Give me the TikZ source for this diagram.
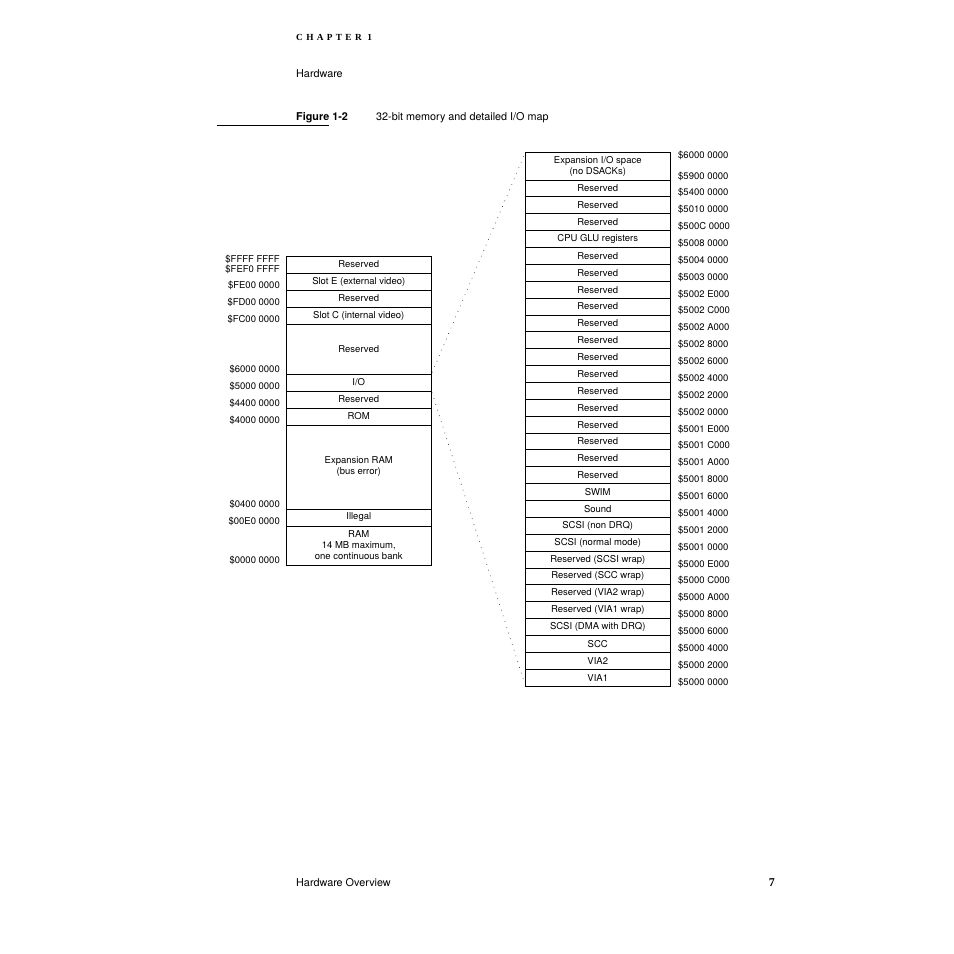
\documentclass[tikz,border=0pt]{standalone}
\usepackage{fontspec}
\setmainfont{TeX Gyre Heros}
\newfontfamily\chapfont[LetterSpace=36]{Liberation Serif}
\newfontfamily\folio{Liberation Serif}
\usepackage{tikz}
\usetikzlibrary{positioning}
\tikzstyle{cell} = [rectangle, draw, line width=0.9pt, inner sep=0pt, outer sep=0pt,
    text centered, align=center, font=\fontsize{9.5}{11}\selectfont]
\tikzstyle{lcell} = [cell, minimum width=145.5pt, minimum height=17pt]
\tikzstyle{rcell} = [cell, minimum width=144.5pt, minimum height=16.87pt]
\tikzstyle{laddr} = [anchor=base east, inner sep=0pt, font=\fontsize{9.5}{11}\selectfont]
\tikzstyle{raddr} = [anchor=base west, inner sep=0pt, font=\fontsize{9.5}{11}\selectfont]
\tikzstyle{head} = [anchor=base west, inner sep=0pt, font=\fontsize{10.8}{13}\selectfont]
\tikzstyle{link} = [draw, black!85, line width=0.9pt, line cap=round,
    dash pattern=on 0pt off 6pt, shorten >=2pt, shorten <=2pt]

\begin{document}
\begin{tikzpicture}[x=1pt,y=-1pt]
    \useasboundingbox (0,0) rectangle (954,954);
    % Page head
    \node[head,font=\chapfont\bfseries\fontsize{9.3}{11}\selectfont] (chap) at (296,40.5) {CHAPTER 1};
    \node[head] (section) at (296,77) {Hardware};
    \node[head] (fignum) at (296,120) {\bfseries Figure 1-2};
    \node[head] (figtitle) at (376,120) {32-bit memory and detailed I/O map};
    \draw[line width=0.8pt] (217,125) -- (329,125);

    % Place nodes: 32-bit memory map
    \node[lcell,anchor=north west] (lres1) at (286,256) {Reserved};
    \node[lcell,below=0pt of lres1] (slotE) {Slot E (external video)};
    \node[lcell,below=0pt of slotE] (lres2) {Reserved};
    \node[lcell,below=0pt of lres2] (slotC) {Slot C (internal video)};
    \node[lcell,below=0pt of slotC,minimum height=50pt] (lres3) {Reserved};
    \node[lcell,below=0pt of lres3] (io) {I/O};
    \node[lcell,below=0pt of io] (lres4) {Reserved};
    \node[lcell,below=0pt of lres4] (rom) {ROM};
    \node[lcell,below=0pt of rom,minimum height=84pt] (expram) {Expansion RAM\\(bus error)};
    \node[lcell,below=0pt of expram] (illegal) {Illegal};
    \node[lcell,below=0pt of illegal,minimum height=39pt] (ram) {RAM\\14 MB maximum,\\one continuous bank};

    \node[laddr] at ([xshift=-6pt,yshift=-6.4pt]lres1.north west) {\$FFFF FFFF};
    \node[laddr] at ([xshift=-6pt,yshift=1pt]slotE.north west) {\$FEF0 FFFF};
    \node[laddr] at ([xshift=-6pt,yshift=1.5pt]lres2.north west) {\$FE00 0000};
    \node[laddr] at ([xshift=-6pt,yshift=1.5pt]slotC.north west) {\$FD00 0000};
    \node[laddr] at ([xshift=-6pt,yshift=1.5pt]lres3.north west) {\$FC00 0000};
    \node[laddr] at ([xshift=-6pt,yshift=1.5pt]io.north west) {\$6000 0000};
    \node[laddr] at ([xshift=-6pt,yshift=1.5pt]lres4.north west) {\$5000 0000};
    \node[laddr] at ([xshift=-6pt,yshift=1.5pt]rom.north west) {\$4400 0000};
    \node[laddr] at ([xshift=-6pt,yshift=1.5pt]expram.north west) {\$4000 0000};
    \node[laddr] at ([xshift=-6pt,yshift=1.5pt]illegal.north west) {\$0400 0000};
    \node[laddr] at ([xshift=-6pt,yshift=1.5pt]ram.north west) {\$00E0 0000};
    \node[laddr] at ([xshift=-6pt,yshift=1.5pt]ram.south west) {\$0000 0000};

    % Place nodes: detailed I/O map
    \node[rcell,anchor=north west,minimum height=28pt] (expio) at (525.5,152) {Expansion I/O space\\(no DSACKs)};
    \node[rcell,below=0pt of expio] (rres1) {Reserved};
    \node[rcell,below=0pt of rres1] (rres2) {Reserved};
    \node[rcell,below=0pt of rres2] (rres3) {Reserved};
    \node[rcell,below=0pt of rres3] (glu) {CPU GLU registers};
    \node[rcell,below=0pt of glu] (r01) {Reserved};
    \node[rcell,below=0pt of r01] (r02) {Reserved};
    \node[rcell,below=0pt of r02] (r03) {Reserved};
    \node[rcell,below=0pt of r03] (r04) {Reserved};
    \node[rcell,below=0pt of r04] (r05) {Reserved};
    \node[rcell,below=0pt of r05] (r06) {Reserved};
    \node[rcell,below=0pt of r06] (r07) {Reserved};
    \node[rcell,below=0pt of r07] (r08) {Reserved};
    \node[rcell,below=0pt of r08] (r09) {Reserved};
    \node[rcell,below=0pt of r09] (r10) {Reserved};
    \node[rcell,below=0pt of r10] (r11) {Reserved};
    \node[rcell,below=0pt of r11] (r12) {Reserved};
    \node[rcell,below=0pt of r12] (r13) {Reserved};
    \node[rcell,below=0pt of r13] (r14) {Reserved};
    \node[rcell,below=0pt of r14] (swim) {SWIM};
    \node[rcell,below=0pt of swim] (sound) {Sound};
    \node[rcell,below=0pt of sound] (scsiA) {SCSI (non DRQ)};
    \node[rcell,below=0pt of scsiA] (scsiB) {SCSI (normal mode)};
    \node[rcell,below=0pt of scsiB] (wscsi) {Reserved (SCSI wrap)};
    \node[rcell,below=0pt of wscsi] (wscc) {Reserved (SCC wrap)};
    \node[rcell,below=0pt of wscc] (wvia2) {Reserved (VIA2 wrap)};
    \node[rcell,below=0pt of wvia2] (wvia1) {Reserved (VIA1 wrap)};
    \node[rcell,below=0pt of wvia1] (scsiDMA) {SCSI (DMA with DRQ)};
    \node[rcell,below=0pt of scsiDMA] (scc) {SCC};
    \node[rcell,below=0pt of scc] (via2) {VIA2};
    \node[rcell,below=0pt of via2] (via1) {VIA1};

    \node[raddr] at ([xshift=8pt,yshift=-6.4pt]expio.north east) {\$6000 0000};
    \node[raddr] at ([xshift=8pt,yshift=1pt]rres1.north east) {\$5900 0000};
    \node[raddr] at ([xshift=8pt,yshift=1pt]rres2.north east) {\$5400 0000};
    \node[raddr] at ([xshift=8pt,yshift=1pt]rres3.north east) {\$5010 0000};
    \node[raddr] at ([xshift=8pt,yshift=1pt]glu.north east) {\$500C 0000};
    \node[raddr] at ([xshift=8pt,yshift=1pt]r01.north east) {\$5008 0000};
    \node[raddr] at ([xshift=8pt,yshift=1pt]r02.north east) {\$5004 0000};
    \node[raddr] at ([xshift=8pt,yshift=1pt]r03.north east) {\$5003 0000};
    \node[raddr] at ([xshift=8pt,yshift=1pt]r04.north east) {\$5002 E000};
    \node[raddr] at ([xshift=8pt,yshift=1pt]r05.north east) {\$5002 C000};
    \node[raddr] at ([xshift=8pt,yshift=1pt]r06.north east) {\$5002 A000};
    \node[raddr] at ([xshift=8pt,yshift=1pt]r07.north east) {\$5002 8000};
    \node[raddr] at ([xshift=8pt,yshift=1pt]r08.north east) {\$5002 6000};
    \node[raddr] at ([xshift=8pt,yshift=1pt]r09.north east) {\$5002 4000};
    \node[raddr] at ([xshift=8pt,yshift=1pt]r10.north east) {\$5002 2000};
    \node[raddr] at ([xshift=8pt,yshift=1pt]r11.north east) {\$5002 0000};
    \node[raddr] at ([xshift=8pt,yshift=1pt]r12.north east) {\$5001 E000};
    \node[raddr] at ([xshift=8pt,yshift=1pt]r13.north east) {\$5001 C000};
    \node[raddr] at ([xshift=8pt,yshift=1pt]r14.north east) {\$5001 A000};
    \node[raddr] at ([xshift=8pt,yshift=1pt]swim.north east) {\$5001 8000};
    \node[raddr] at ([xshift=8pt,yshift=1pt]sound.north east) {\$5001 6000};
    \node[raddr] at ([xshift=8pt,yshift=1pt]scsiA.north east) {\$5001 4000};
    \node[raddr] at ([xshift=8pt,yshift=1pt]scsiB.north east) {\$5001 2000};
    \node[raddr] at ([xshift=8pt,yshift=1pt]wscsi.north east) {\$5001 0000};
    \node[raddr] at ([xshift=8pt,yshift=1pt]wscc.north east) {\$5000 E000};
    \node[raddr] at ([xshift=8pt,yshift=1pt]wvia2.north east) {\$5000 C000};
    \node[raddr] at ([xshift=8pt,yshift=1pt]wvia1.north east) {\$5000 A000};
    \node[raddr] at ([xshift=8pt,yshift=1pt]scsiDMA.north east) {\$5000 8000};
    \node[raddr] at ([xshift=8pt,yshift=1pt]scc.north east) {\$5000 6000};
    \node[raddr] at ([xshift=8pt,yshift=1pt]via2.north east) {\$5000 4000};
    \node[raddr] at ([xshift=8pt,yshift=1pt]via1.north east) {\$5000 2000};
    \node[raddr] at ([xshift=8pt,yshift=1pt]via1.south east) {\$5000 0000};

    % Draw edges
    \path[link] (io.north east) -- (expio.north west);
    \path[link] (io.south east) -- (via1.south west);

    % Page foot
    \node[head] (foot) at (296,886) {Hardware Overview};
    \node[anchor=base east,inner sep=0pt,font=\folio\bfseries\fontsize{12}{14}\selectfont] (page) at (775,886) {7};
\end{tikzpicture}
\end{document}
